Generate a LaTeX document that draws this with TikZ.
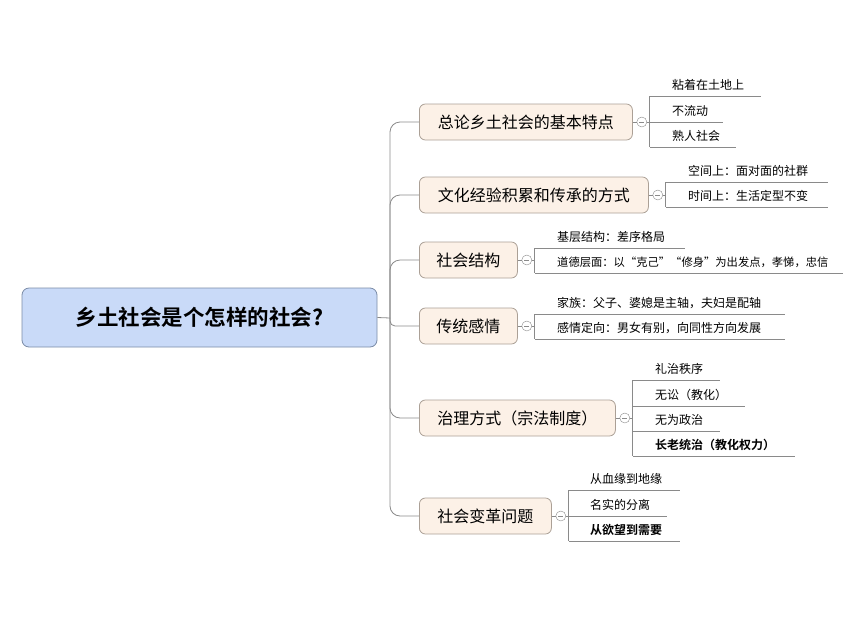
\documentclass[tikz,border=0pt]{standalone}
\usepackage{fontspec}
\setmainfont{Noto Sans CJK SC}[BoldFont={Noto Sans CJK SC Bold}]
\definecolor{rootfill}{HTML}{C9DAF8}
\definecolor{rootedge}{HTML}{7A8BA6}
\definecolor{topicfill}{HTML}{FCF1E7}
\definecolor{topicedge}{HTML}{ABA096}
\definecolor{linegray}{HTML}{8A8A8A}
\begin{document}
\begin{tikzpicture}[x=1pt,y=-1pt,
  wire/.style={draw=linegray, line width=0.8pt},
  rootbox/.style={draw=rootedge, fill=rootfill, rounded corners=7pt, line width=0.8pt,
    minimum width=355pt, minimum height=59pt, font=\fontsize{21.5}{25}\selectfont\bfseries},
  topic/.style={draw=topicedge, fill=topicfill, rounded corners=6pt, line width=0.8pt,
    anchor=west, minimum height=36pt, minimum width=#1, font=\fontsize{16}{19}\selectfont},
  knob/.style={circle, draw=linegray, fill=white, minimum size=10pt, inner sep=0pt,
    path picture={\draw[linegray] ([xshift=-2.5pt]path picture bounding box.center)
      -- ([xshift=2.5pt]path picture bounding box.center);}},
  leaf/.style={anchor=south west, inner xsep=0pt, inner ysep=6pt, text depth=0pt,
    text width=#1, align=left, font=\fontsize{12}{14}\selectfont}]
\useasboundingbox (0,0) rectangle (860,622);
% root
\node[rootbox] (root) at (199.5,317.5) {乡土社会是个怎样的社会?};
\coordinate (hub) at (390,318);
% topics
\node[topic=213pt] (b1) at (419,122) {总论乡土社会的基本特点};
\node[topic=229pt] (b2) at (419,195) {文化经验积累和传承的方式};
\node[topic=98pt] (b3) at (419,260) {社会结构};
\node[topic=98pt] (b4) at (419,326) {传统感情};
\node[topic=196pt] (b5) at (419,418) {治理方式（宗法制度）};
\node[topic=132pt] (b6) at (419,516) {社会变革问题};
\draw[wire] (root.east) -- (hub);
\foreach \b/\r in {b1/10,b2/10,b3/10,b4/5,b5/10,b6/10}
  \draw[wire, rounded corners=\r pt] (hub) |- (\b.west);
% knobs
\foreach \i in {1,...,6} {
  \node[knob] (c\i) at ([xshift=9pt]b\i.east) {};
  \coordinate (v\i) at ([xshift=17pt]b\i.east);
  \draw[wire] (b\i.east) -- (c\i.west) (c\i.east) -- (v\i);
}
% leaves
\node[leaf=89pt] (k11) at (672,96) {粘着在土地上};
\node[leaf=51pt] (k12) at (672,122) {不流动};
\node[leaf=64pt] (k13) at (672,147) {熟人社会};
\node[leaf=140pt] (k21) at (688,182) {空间上：面对面的社群};
\node[leaf=140pt] (k22) at (688,207) {时间上：生活定型不变};
\node[leaf=128pt] (k31) at (557,248) {基层结构：差序格局};
\node[leaf=286pt, font=\fontsize{11.3}{14}\selectfont] (k32) at (557,273) {道德层面：以“克己”“修身”为出发点，孝悌，忠信};
\node[leaf=228pt] (k41) at (557,314) {家族：父子、婆媳是主轴，夫妇是配轴};
\node[leaf=228pt] (k42) at (557,339) {感情定向：男女有别，向同性方向发展};
\node[leaf=65pt] (k51) at (655,380) {礼治秩序};
\node[leaf=90pt] (k52) at (655,406) {无讼（教化）};
\node[leaf=65pt] (k53) at (655,431) {无为政治};
\node[leaf=140pt] (k54) at (655,456) {\bfseries 长老统治（教化权力）};
\node[leaf=90pt] (k61) at (590,490) {从血缘到地缘};
\node[leaf=77pt] (k62) at (590,516) {名实的分离};
\node[leaf=90pt] (k63) at (590,541) {\bfseries 从欲望到需要};
\foreach \v/\a/\z in {1/1/3,2/1/2,3/1/2,4/1/2,5/1/4,6/1/3}
  \draw[wire] (v\v |- k\v\a.south) -- (v\v |- k\v\z.south);
\foreach \k/\v in {11/1,12/1,13/1,21/2,22/2,31/3,32/3,41/4,42/4,51/5,52/5,53/5,54/5,61/6,62/6,63/6}
  \draw[wire] (v\v |- k\k.south) -- (k\k.south east);
\end{tikzpicture}
\end{document}
